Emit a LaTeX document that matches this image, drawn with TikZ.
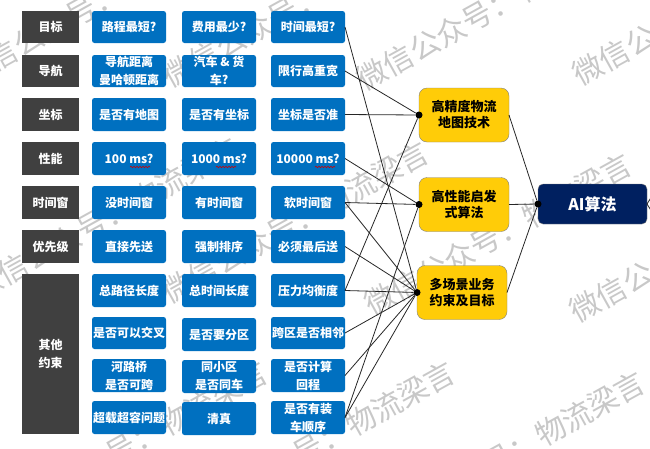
\documentclass[tikz,border=0pt]{standalone}
\usepackage{fontspec}
\setmainfont{Noto Sans CJK SC}
\usetikzlibrary{shapes}
\usetikzlibrary{positioning}
\usetikzlibrary{calc}
\usetikzlibrary{decorations.pathmorphing}
\definecolor{bleu}{HTML}{0070C0}
\definecolor{sombre}{HTML}{404040}
\definecolor{jaune}{HTML}{FFCC08}
\definecolor{marine}{HTML}{002060}
\definecolor{filigrane}{HTML}{C8C8C8}

\begin{document}
\begin{tikzpicture}[x=1pt,y=-1pt]
\tikzstyle{marque}=[text=filigrane,rotate=29,anchor=west,inner sep=0pt,font=\fontsize{30}{30}\selectfont]
\tikzstyle{titre}=[rectangle,fill=sombre,text=white,align=center,inner sep=0pt,outer sep=0pt,
minimum width=57pt,font=\bfseries\fontsize{12}{18}\selectfont]
\tikzstyle{choix}=[rectangle,rounded corners=2.5pt,fill=bleu,text=white,align=center,inner sep=0pt,outer sep=0pt,
minimum width=74pt,minimum height=33pt,font=\bfseries\fontsize{12}{18}\selectfont]
\tikzstyle{tech}=[rectangle,rounded corners=8pt,draw=gray,fill=jaune,align=center,inner sep=0pt,outer sep=0pt,
minimum width=90pt,minimum height=54pt,font=\bfseries\fontsize{13}{16}\selectfont]
\tikzstyle{algo}=[rectangle,rounded corners=5pt,draw=gray,fill=marine,text=white,inner sep=0pt,outer sep=0pt,
minimum width=109pt,minimum height=40pt,font=\bfseries\fontsize{16}{18}\selectfont]
\tikzstyle{point}=[circle,fill=black,inner sep=0pt,minimum size=7pt]
\tikzstyle{lien}=[draw=black!85,line width=0.8pt]
\tikzstyle{ondule}=[draw=red!80!black,line width=0.6pt,decorate,decoration={snake,amplitude=0.7pt,segment length=3pt}]
%filigrane
\useasboundingbox (0,0) rectangle (650,448);
\node[marque] (wa) at (-37,77) {微信公众号：物流梁言};
\node[marque] (wb) at (165,79) {微信公众号：物流梁言};
\node[marque] (wc) at (359,82) {微信公众号：物流梁言};
\node[marque] (wd) at (575,77) {微信公众号：物流梁言};
\node[marque] (we) at (-26,291) {微信公众号：物流梁言};
\node[marque] (wf) at (164,295) {微信公众号：物流梁言};
\node[marque] (wg) at (367,307) {微信公众号：物流梁言};
\node[marque] (wh) at (572,314) {微信公众号：物流梁言};
\node[marque] (wi) at (3,515) {微信公众号：物流梁言};
\node[marque] (wj) at (190,515) {微信公众号：物流梁言};
\node[marque] (wk) at (380,525) {微信公众号：物流梁言};
%placementdesnoeuds
\node[titre,minimum height=32pt] (t1) at (50.5,27) {目标};
\node[choix,minimum height=32pt] (a1) at (129,27) {路程最短?};
\node[choix,minimum height=32pt] (b1) at (219,27) {费用最少?};
\node[choix,minimum height=32pt] (c1) at (308,27) {时间最短?};
\node[titre,minimum height=32pt] (t2) at (50.5,71) {导航};
\node[choix,minimum height=32pt] (a2) at (129,71) {导航距离\\曼哈顿距离};
\node[choix,minimum height=32pt] (b2) at (219,71) {汽车 \& 货\\车?};
\node[choix,minimum height=32pt] (c2) at (308,71) {限行高重宽};
\node[titre,minimum height=33pt] (t3) at (50.5,114.5) {坐标};
\node[choix] (a3) at (129,114.5) {是否有地图};
\node[choix] (b3) at (219,114.5) {是否有坐标};
\node[choix] (c3) at (308,114.5) {坐标是否准};
\node[titre,minimum height=33pt] (t4) at (50.5,158.5) {性能};
\node[choix] (a4) at (129,158.5) {100 ms?};
\node[choix] (b4) at (219,158.5) {1000 ms?};
\node[choix] (c4) at (308,158.5) {10000 ms?};
\node[titre,minimum height=33pt] (t5) at (50.5,202.5) {时间窗};
\node[choix] (a5) at (129,202.5) {没时间窗};
\node[choix] (b5) at (219,202.5) {有时间窗};
\node[choix] (c5) at (308,202.5) {软时间窗};
\node[titre,minimum height=33pt] (t6) at (50.5,246.5) {优先级};
\node[choix] (a6) at (129,246.5) {直接先送};
\node[choix] (b6) at (219,246.5) {强制排序};
\node[choix] (c6) at (308,246.5) {必须最后送};
\node[titre,minimum height=160pt] (t7) at (50.5,354) {其他\\约束};
\node[choix] (a7) at (129,290.5) {总路径长度};
\node[choix] (b7) at (219,290.5) {总时间长度};
\node[choix] (c7) at (308,290.5) {压力均衡度};
\node[choix,minimum height=32pt] (a8) at (129,333) {是否可以交叉};
\node[choix] (b8) at (219,334.5) {是否要分区};
\node[choix,minimum height=32pt] (c8) at (308,333) {跨区是否相邻};
\node[choix] (a9) at (129,375.5) {河路桥\\是否可跨};
\node[choix] (b9) at (219,376.5) {同小区\\是否同车};
\node[choix] (c9) at (308,375.5) {是否计算\\回程};
\node[choix] (a10) at (129,417.5) {超载超容问题};
\node[choix] (b10) at (219,418.5) {清真};
\node[choix] (c10) at (308,417.5) {是否有装\\车顺序};
\node[tech] (carte) at (464,115) {高精度物流\\地图技术};
\node[tech] (heur) at (464,204.5) {高性能启发\\式算法};
\node[tech] (multi) at (462,292.5) {多场景业务\\约束及目标};
\node[algo] (ia) at (592.5,204) {AI算法};
\node[point] (pc) at (carte.west) {};
\node[point] (ph) at (heur.west) {};
\node[point] (pm) at (multi.west) {};
\node[point] (pi) at (ia.west) {};
\coordinate (sa) at (652,196);
\coordinate (sb) at (652,212);
%soulignement
\coordinate (o1) at (130,167);
\coordinate (o2) at (150,167);
\coordinate (o3) at (216,167);
\coordinate (o4) at (236,167);
\coordinate (o5) at (315,167);
\coordinate (o6) at (335,167);
\draw[ondule] (o1) -- (o2);
\draw[ondule] (o3) -- (o4);
\draw[ondule] (o5) -- (o6);
%placementdesfleches
\draw[lien] (c1.east) -- (pm);
\draw[lien] (c2.east) -- (pc);
\draw[lien] (c3.east) -- (pc);
\draw[lien] (c4.east) -- (ph);
\draw[lien] (c5.east) -- (ph);
\draw[lien] (c5.east) -- (pm);
\draw[lien] (c6.east) -- (pm);
\draw[lien] (c7.east) -- (pc);
\draw[lien] (c7.east) -- (pm);
\draw[lien] (c8.east) -- (pm);
\draw[lien] (c9.east) -- (pm);
\draw[lien] (c10.east) -- (ph);
\draw[lien] (c10.east) -- (pm);
\draw[lien] (carte.east) -- (pi);
\draw[lien] (heur.east) -- (pi);
\draw[lien] (multi.east) -- (pi);
\draw[lien] (ia.east) -- (sa);
\draw[lien] (ia.east) -- (sb);
\end{tikzpicture}
\end{document}
